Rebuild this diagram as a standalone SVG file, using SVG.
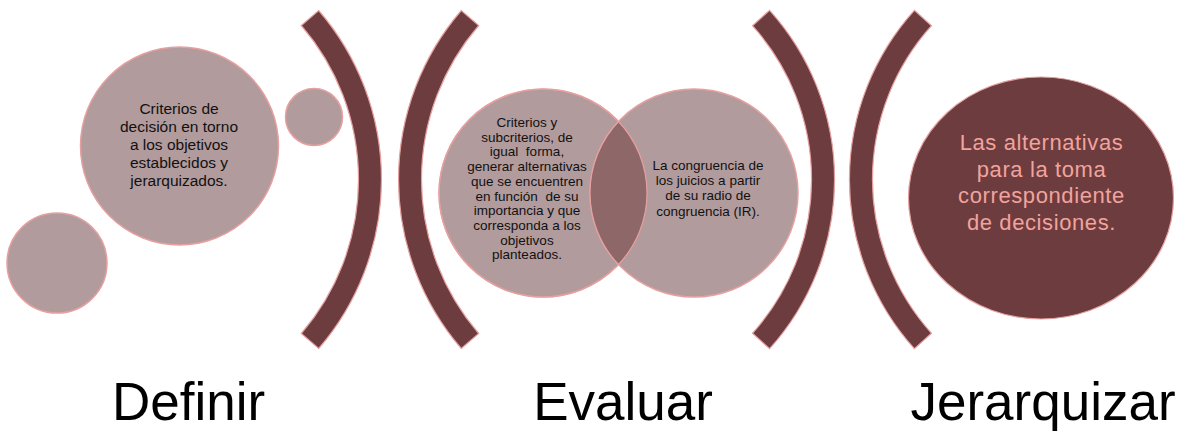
<svg xmlns="http://www.w3.org/2000/svg" width="1185" height="434" viewBox="0 0 1185 434">
<defs>
<style>
.lt{fill:#B29B9C;stroke:#E6A0A0;stroke-width:1.5}
.dk{fill:#6C3C3E;stroke:#E6A0A0;stroke-width:1.2}
.lens{fill:#8E6769;stroke:#E6A0A0;stroke-width:1.2}
.t{font-family:"Liberation Sans",Arial,sans-serif;fill:#111;text-anchor:middle;white-space:pre}
.s15{font-size:15.5px}
.s13{font-size:13.5px}
.pk{font-family:"Liberation Sans",Arial,sans-serif;fill:#F2A39D;font-size:22px;letter-spacing:0.6px;text-anchor:middle}
.big{font-family:"Liberation Sans",Arial,sans-serif;fill:#000;font-size:53px;text-anchor:middle}
</style>
<clipPath id="c1clip"><circle cx="543" cy="193" r="104"/></clipPath>
</defs>
<rect width="1185" height="434" fill="#FFFFFF"/>
<g id="arcs">
<path class="dk" d="M318.7 10.5 A258.9 258.9 0 0 1 318.7 348.5 L301.3 333.5 A235.9 235.9 0 0 0 301.3 25.5 Z"/>
<path class="dk" d="M461.3 10.5 A258.9 258.9 0 0 0 461.3 348.5 L478.7 333.5 A235.9 235.9 0 0 1 478.7 25.5 Z"/>
<path class="dk" d="M769.6 10.3 A252.8 252.8 0 0 1 769.6 348.7 L752.5 333.3 A229.8 229.8 0 0 0 752.5 25.7 Z"/>
<path class="dk" d="M914.4 10.3 A252.8 252.8 0 0 0 914.4 348.7 L931.5 333.3 A229.8 229.8 0 0 1 931.5 25.7 Z"/>
</g>
<g id="connectors"></g>
<g id="small-circle-bottom">
<circle class="lt" cx="57" cy="263" r="50"/>
</g>
<g id="small-circle-top">
<circle class="lt" cx="314" cy="117" r="28.5"/>
</g>
<g id="definir-circle">
<circle class="lt" cx="179.5" cy="146" r="99"/>
<text class="t s15" x="179" y="114">Criterios de</text>
<text class="t s15" x="179" y="132">decisión en torno</text>
<text class="t s15" x="179" y="150">a los objetivos</text>
<text class="t s15" x="179" y="168">establecidos y</text>
<text class="t s15" x="179" y="186">jerarquizados.</text>
</g>
<g id="evaluar-left">
<circle class="lt" cx="543" cy="193" r="104"/>
</g>
<g id="evaluar-right">
<circle class="lt" cx="694" cy="193" r="104"/>
</g>
<g id="evaluar-overlap">
<circle class="lens" cx="694" cy="193" r="104" clip-path="url(#c1clip)"/>
<circle cx="543" cy="193" r="104" fill="none" stroke="#E6A0A0" stroke-width="1.2"/>
</g>
<g id="evaluar-texts">
<text class="t s13" x="527" y="127">Criterios y</text>
<text class="t s13" x="527" y="141.7">subcriterios, de</text>
<text class="t s13" x="527" y="156.4">igual  forma,</text>
<text class="t s13" x="527" y="171.1">generar alternativas</text>
<text class="t s13" x="527" y="185.8">que se encuentren</text>
<text class="t s13" x="527" y="200.5">en función  de su</text>
<text class="t s13" x="527" y="215.2">importancia y que</text>
<text class="t s13" x="527" y="229.9">corresponda a los</text>
<text class="t s13" x="527" y="244.6">objetivos</text>
<text class="t s13" x="527" y="259.3">planteados.</text>
<text class="t s13" x="708" y="170">La congruencia de</text>
<text class="t s13" x="708" y="185">los juicios a partir</text>
<text class="t s13" x="708" y="200">de su radio de</text>
<text class="t s13" x="708" y="215.5">congruencia (IR).</text>
</g>
<g id="jerarquizar-circle">
<ellipse class="dk" cx="1041" cy="198" rx="132.5" ry="121"/>
<text class="pk" x="1041.5" y="150">Las alternativas</text>
<text class="pk" x="1041.5" y="176.5">para la toma</text>
<text class="pk" x="1041.5" y="203">correspondiente</text>
<text class="pk" x="1041.5" y="229.5">de decisiones.</text>
</g>
<g id="labels">
<text class="big" x="188.5" y="420">Definir</text>
<text class="big" x="623" y="420">Evaluar</text>
<text class="big" x="1043" y="420">Jerarquizar</text>
</g>
</svg>
